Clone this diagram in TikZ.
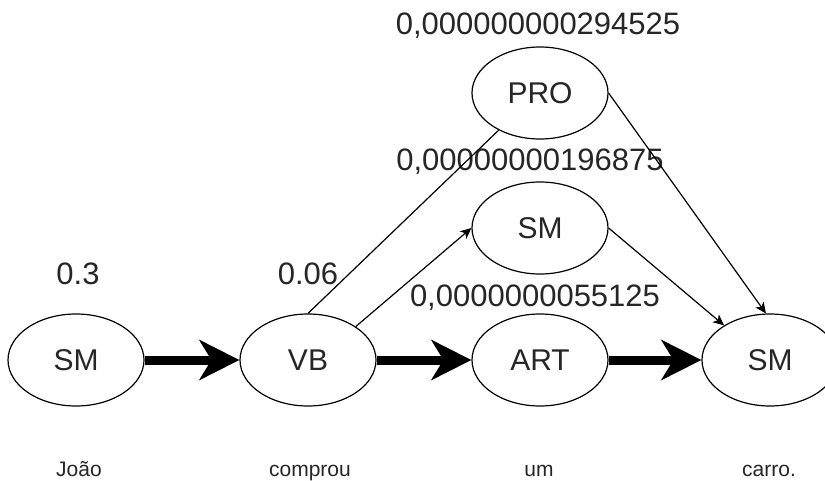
\documentclass[tikz,border=0pt]{standalone}
\usepackage{fontspec}
\setmainfont{Liberation Sans}
\usetikzlibrary{arrows.meta,shapes.geometric}
\begin{document}
\begin{tikzpicture}[x=1pt,y=-1pt,
  tag/.style={draw,line width=1.2pt,ellipse,minimum width=136pt,minimum height=92pt,inner sep=0pt,font=\fontsize{30}{36}\selectfont,text=black!85},
  prob/.style={font=\fontsize{31}{37}\selectfont,text=black!85,inner sep=0pt,anchor=base},
  word/.style={font=\fontsize{21}{25}\selectfont,text=black!85,inner sep=0pt,anchor=base},
  thick arrow/.style={line width=9pt,-{Stealth[length=40pt,width=40pt,inset=12pt]}},
  thin arrow/.style={line width=1.2pt,-{Stealth[length=11pt,width=10pt,inset=3pt]}}]
\clip (0,0) rectangle (825,481);
\useasboundingbox (0,0) rectangle (825,481);
\node[tag] (sm1) at (76,360) {SM};
\node[tag] (vb) at (308,360) {VB};
\node[tag] (art) at (540,360) {ART};
\node[tag] (sm4) at (770,360) {SM};
\node[tag] (pro) at (540,93) {PRO};
\node[tag] (smm) at (540,228) {SM};
\node[prob] (p1) at (78,285) {0.3};
\node[prob] (p2) at (308,285) {0.06};
\node[prob] (p3) at (538,35) {0,000000000294525};
\node[prob] (p4) at (530,171) {0,00000000196875};
\node[prob] (p5) at (535,306) {0,0000000055125};
\node[word] (w1) at (79,476) {João};
\node[word] (w2) at (310,476) {comprou};
\node[word] (w3) at (539,476) {um};
\node[word] (w4) at (769,476) {carro.};
\draw[thick arrow] (sm1.east) -- (vb.west);
\draw[thick arrow] (vb.east) -- (art.west);
\draw[thick arrow] (art.east) -- (sm4.west);
\draw[line width=1.2pt] (vb.north) -- (pro.222);
\draw[thin arrow] (vb.35) -- (smm.west);
\draw[thin arrow] (pro.east) -- (sm4.95);
\draw[thin arrow] (smm.east) -- (sm4.143);
\end{tikzpicture}
\end{document}
